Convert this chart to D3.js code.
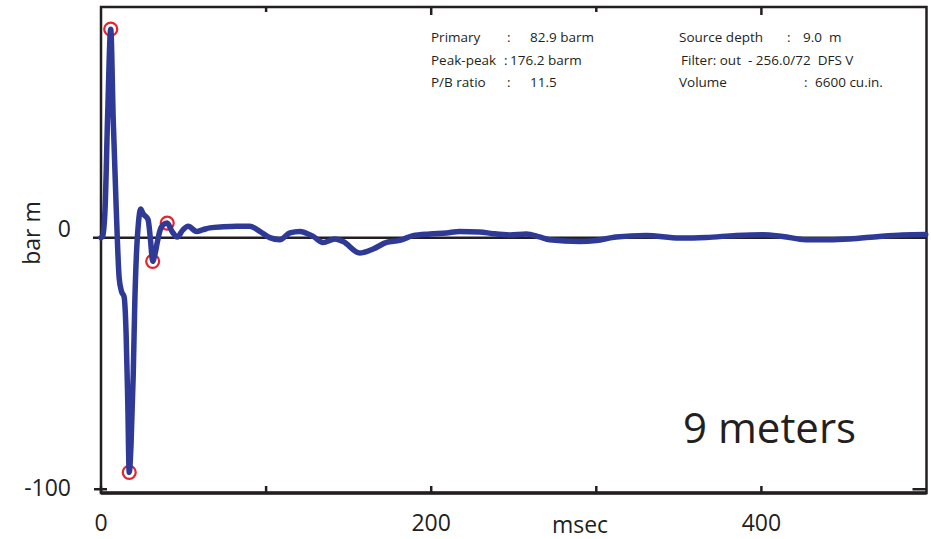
<!DOCTYPE html>
<html>
<head>
<meta charset="utf-8">
<script src="https://cdn.jsdelivr.net/npm/d3@7"></script>
<style>
  body { margin: 0; background: #fff; }
  text { font-family: "Open Sans", "DejaVu Sans", sans-serif; fill: #231f20; white-space: pre; }
</style>
</head>
<body>
<script>
// signature, time in msec / pressure in bar m
var timeMs = [0, 1, 2.5, 4, 5.9, 7.4, 9.2, 11, 12.5, 14, 15.2, 16.2, 17.1, 18.2, 19.5, 20.5,
  21.5, 22.7, 24, 25.5, 28.5, 30, 31.3, 32.7, 34.2, 35.8, 37.5, 40.1, 43, 46.2, 49.5,
  52.8, 57.9, 61.9, 66, 74, 82.1, 90.1, 96.2, 102.2, 108.3, 114.4, 120.4, 128.5, 134.5,
  141.6, 146.6, 156.7, 164.8, 172.9, 180.9, 189, 199.1, 209.2, 217.2, 229.3, 237.4,
  247.5, 257.6, 265.7, 271.7, 289.9, 300, 312, 330.2, 350.4, 366.5, 384.7, 400.8,
  412.9, 427, 441.2, 453.3, 471.4, 485.5, 499.5];
var pressure = [0, 0.5, 12, 48, 82.9, 47, 12, -16, -21.5, -23.5, -38, -65, -93.3, -82, -55, -25,
  -6, 6, 11.4, 9.5, 7.2, -1, -9.4, -6.5, -1.5, 3, 5, 5.8, 2.5, 0.3, 3,
  4.5, 2.5, 3.2, 3.9, 4.3, 4.5, 4.5, 2.5, 0, -0.8, 1.9, 2.5, 0.5, -1.9,
  -0.5, -1.5, -6.1, -4.5, -1.9, -1.1, 0.8, 1.5, 1.9, 2.5, 2.3, 1.6,
  1.1, 1.5, 0.3, -0.8, -1.5, -1.1, 0.3, 0.9, -0.1, 0.1, 0.9, 1.2,
  0.5, -0.8, -0.8, -0.5, 0.5, 1.1, 1.3];

// picked peaks (red circles)
var peakTimes = [5.9, 17.1, 31.3, 40.1];
var peakValues = [82.9, -93.3, -9.4, 5.8];

var xTicks = [0, 100, 200, 300, 400];
var xLabels = [0, 200, 400];
var yLabels = [0, -100];

var infoLeft = [["Primary", ":", "82.9 barm"], ["Peak-peak", ":", "176.2 barm"], ["P/B ratio", ":", "11.5"]];
var infoRight = [["Source depth", ":", "9.0  m"], ["Filter: out  - 256.0/72  DFS V", "", ""], ["Volume", ":", "6600 cu.in."]];

var w = 931, h = 539;
var x = d3.scaleLinear().domain([0, 500]).range([101, 926.5]);
var y = d3.scaleLinear().domain([-101.5, 91.7]).range([493, 7]);

var svg = d3.select("body").append("svg")
  .attr("width", w)
  .attr("height", h);

var data = timeMs.map(function(t, i) { return [t, pressure[i]]; });

// zero line
svg.append("line")
  .attr("x1", x(0) - 8).attr("x2", x(500))
  .attr("y1", y(0)).attr("y2", y(0))
  .style("stroke", "#231f20").style("stroke-width", 2.5);

// frame
svg.append("rect")
  .attr("x", x(0)).attr("y", y(91.7))
  .attr("width", x(500) - x(0)).attr("height", y(-101.5) - y(91.7))
  .style("fill", "none").style("stroke", "#231f20").style("stroke-width", 2.5);
svg.append("line")
  .attr("x1", x(0)).attr("x2", x(500))
  .attr("y1", y(-101.5)).attr("y2", y(-101.5))
  .style("stroke", "#231f20").style("stroke-width", 3.5);

// bottom ticks (inward)
svg.selectAll(".xtick")
  .data(xTicks)
  .enter()
  .append("line")
  .attr("class", "xtick")
  .attr("x1", function(d) { return x(d); }).attr("x2", function(d) { return x(d); })
  .attr("y1", y(-101.5)).attr("y2", y(-101.5) - 7)
  .style("stroke", "#231f20").style("stroke-width", 2.5);

// top ticks (inward, longer at labelled values)
svg.selectAll(".ttick")
  .data(xTicks.slice(1))
  .enter()
  .append("line")
  .attr("class", "ttick")
  .attr("x1", function(d) { return x(d); }).attr("x2", function(d) { return x(d); })
  .attr("y1", y(91.7)).attr("y2", function(d) { return y(91.7) + (d % 200 === 0 ? 8 : 5); })
  .style("stroke", "#231f20").style("stroke-width", 2.5);

// -100 ticks left and right
svg.append("line")
  .attr("x1", x(0) - 7).attr("x2", x(0) + 6)
  .attr("y1", y(-100)).attr("y2", y(-100))
  .style("stroke", "#231f20").style("stroke-width", 2.5);
svg.append("line")
  .attr("x1", x(500) - 14).attr("x2", x(500))
  .attr("y1", y(-100)).attr("y2", y(-100))
  .style("stroke", "#231f20").style("stroke-width", 2.5);

// x labels
svg.selectAll(".xlab")
  .data(xLabels)
  .enter()
  .append("text")
  .attr("class", "xlab")
  .attr("x", function(d) { return x(d); })
  .attr("y", 531)
  .attr("text-anchor", "middle")
  .style("font-size", "23px")
  .text(function(d) { return d; });

svg.append("text")
  .attr("x", 580).attr("y", 533)
  .attr("text-anchor", "middle")
  .style("font-size", "23px")
  .text("msec");

// y labels
svg.selectAll(".ylab")
  .data(yLabels)
  .enter()
  .append("text")
  .attr("class", "ylab")
  .attr("x", 71)
  .attr("y", function(d) { return d === 0 ? y(d) - 1 : y(d) + 7; })
  .attr("text-anchor", "end")
  .style("font-size", "23px")
  .text(function(d) { return d; });

svg.append("text")
  .attr("transform", "translate(40,233) rotate(-90)")
  .attr("text-anchor", "middle")
  .style("font-size", "23px")
  .text("bar m");

// peak circles
svg.selectAll(".peak")
  .data(peakTimes)
  .enter()
  .append("circle")
  .attr("class", "peak")
  .attr("cx", function(d) { return x(d); })
  .attr("cy", function(d, i) { return y(peakValues[i]); })
  .attr("r", 6.5)
  .style("fill", "none")
  .style("stroke", "#e8232b")
  .style("stroke-width", 2.2);

// signature
var line = d3.line()
  .x(function(d) { return x(d[0]); })
  .y(function(d) { return y(d[1]); })
  .curve(d3.curveMonotoneX);

svg.append("path")
  .datum(data)
  .attr("d", line)
  .style("fill", "none")
  .style("stroke", "#2e3a96")
  .style("stroke-width", 5.5)
  .style("stroke-linejoin", "round")
  .style("stroke-linecap", "round");

// info block
function infoBlock(rows, x0, xColon, xVal) {
  rows.forEach(function(r, i) {
    var yy = 42 + i * 22.5;
    svg.append("text").attr("x", x0[i]).attr("y", yy).style("font-size", "13.5px").text(r[0]);
    svg.append("text").attr("x", xColon[i]).attr("y", yy).style("font-size", "13.5px").text(r[1]);
    svg.append("text").attr("x", xVal[i]).attr("y", yy).style("font-size", "13.5px").text(r[2]);
  });
}
infoBlock(infoLeft, [431, 431, 431], [507, 504, 507], [530, 510, 530]);
infoBlock(infoRight, [679, 681, 679], [787, 0, 804], [803, 0, 815]);

svg.append("text")
  .attr("x", 683).attr("y", 443)
  .style("font-size", "42px")
  .text("9 meters");
</script>
</body>
</html>
